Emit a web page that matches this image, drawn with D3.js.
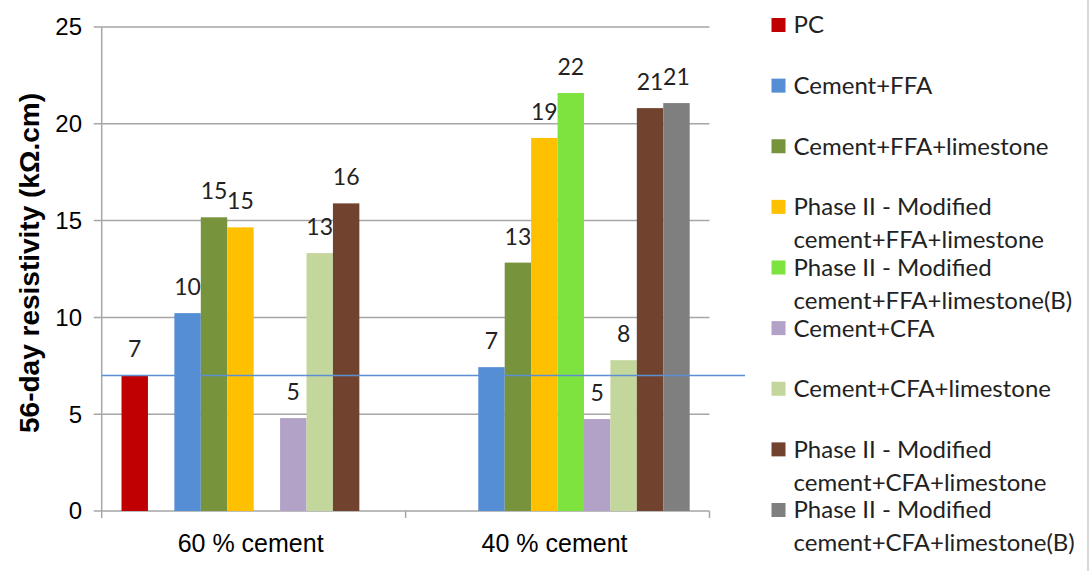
<!DOCTYPE html>
<html><head><meta charset="utf-8">
<script src="https://cdn.jsdelivr.net/npm/d3@7"></script>
<style>body{margin:0;background:#fff} svg{display:block}</style>
</head><body><svg id="c" width="1091" height="571"></svg>
<script>
// ---- data ----
const categories = ["60 % cement", "40 % cement"];
const seriesNames = [
  "PC",
  "",
  "Cement+FFA",
  "Cement+FFA+limestone",
  "Phase II - Modified\ncement+FFA+limestone",
  "Phase II - Modified\ncement+FFA+limestone(B)",
  "Cement+CFA",
  "Cement+CFA+limestone",
  "Phase II - Modified\ncement+CFA+limestone",
  "Phase II - Modified\ncement+CFA+limestone(B)"
];
const seriesColors = ["#C00000", "#FFFFFF", "#558ED5", "#77933C", "#FFC000", "#7FE33F", "#B3A2C7", "#C3D69B", "#71432F", "#7F7F7F"];
const valPC         = [7.0, null];
const valBlank      = [null, null];
const valFFA        = [10.22, 7.43];
const valFFALs      = [15.17, 12.83];
const valP2FFA      = [14.65, 19.27];
const valP2FFAB     = [null, 21.59];
const valCFA        = [4.80, 4.75];
const valCFALs      = [13.32, 7.79];
const valP2CFA      = [15.89, 20.81];
const valP2CFAB     = [null, 21.07];
const seriesValues = [valPC, valBlank, valFFA, valFFALs, valP2FFA, valP2FFAB, valCFA, valCFALs, valP2CFA, valP2CFAB];
const yTicks = [0, 5, 10, 15, 20, 25];
const referenceValue = 7;
const yTitle = "56-day resistivity (kΩ.cm)";

// ---- layout ----
const svg = d3.select("#c");
const plotL = 101.7, plotR = 709.5, plotT = 27, plotB = 511;

const x0 = d3.scaleBand().domain(categories).range([plotL, plotR]).padding(0);
const x1 = d3.scaleBand().domain(d3.range(seriesNames.length)).range([0, x0.bandwidth()])
  .paddingInner(0).paddingOuter(0.75);
const y = d3.scaleLinear().domain([0, 25]).range([plotB, plotT]);

// gridlines
svg.append("g").selectAll("line").data(yTicks).join("line")
  .attr("x1", plotL - 8).attr("x2", plotR)
  .attr("y1", d => y(d)).attr("y2", d => y(d))
  .attr("stroke", "#a6a6a6").attr("stroke-width", 1.5);

// y axis line
svg.append("line").attr("x1", plotL).attr("x2", plotL).attr("y1", plotT).attr("y2", plotB + 7)
  .attr("stroke", "#a6a6a6").attr("stroke-width", 1.5);

// category ticks
const bounds = categories.map(c => x0(c)).concat([plotR]);
svg.append("g").selectAll("line").data(bounds.slice(1)).join("line")
  .attr("x1", d => d).attr("x2", d => d).attr("y1", plotB).attr("y2", plotB + 7)
  .attr("stroke", "#a6a6a6").attr("stroke-width", 1.5);

// y tick labels
svg.append("g").selectAll("text").data(yTicks).join("text")
  .attr("x", 82).attr("y", d => y(d)).attr("dy", "0.35em")
  .attr("text-anchor", "end")
  .attr("font-family", "Liberation Sans, Arial, sans-serif").attr("font-size", 24)
  .attr("fill", "#000").text(d => d);

// y title
svg.append("text")
  .attr("transform", `translate(39,263) rotate(-90)`)
  .attr("text-anchor", "middle")
  .attr("font-family", "Liberation Sans, Arial, sans-serif").attr("font-size", 28)
  .attr("font-weight", "bold").attr("fill", "#000").text(yTitle);

// x labels
svg.append("g").selectAll("text").data(categories).join("text")
  .attr("x", d => x0(d) + x0.bandwidth() / 2 - 3).attr("y", 552)
  .attr("text-anchor", "middle")
  .attr("font-family", "Liberation Sans, Arial, sans-serif").attr("font-size", 25)
  .attr("fill", "#000").text(d => d);

// bars
const barData = [];
seriesNames.forEach((s, si) => {
  categories.forEach((c, ci) => {
    const v = seriesValues[si][ci];
    if (v !== null && v !== undefined) barData.push({ si, c, v });
  });
});
svg.append("g").selectAll("rect").data(barData).join("rect")
  .attr("x", d => x0(d.c) + x1(d.si))
  .attr("width", x1.bandwidth())
  .attr("y", d => y(d.v))
  .attr("height", d => y(0) - y(d.v))
  .attr("fill", d => seriesColors[d.si]);

// reference line
svg.append("line").attr("x1", plotL).attr("x2", 745)
  .attr("y1", y(referenceValue)).attr("y2", y(referenceValue))
  .attr("stroke", "#5B8FD4").attr("stroke-width", 1.5);

// data labels
svg.append("g").selectAll("text").data(barData).join("text")
  .attr("x", d => x0(d.c) + x1(d.si) + x1.bandwidth() / 2)
  .attr("y", d => y(d.v) - 18)
  .attr("text-anchor", "middle")
  .attr("font-family", "Lato, Open Sans, sans-serif").attr("font-size", 23)
  .attr("fill", "#222").text(d => Math.round(d.v));

// legend
const legendItems = seriesNames.map((s, i) => ({ s, i })).filter(d => d.s !== "");
const ly = d3.scalePoint().domain(legendItems.map(d => d.i)).range([25, 510]);
const lg = svg.append("g").selectAll("g").data(legendItems).join("g")
  .attr("transform", d => `translate(771.5,${ly(d.i)})`);
lg.append("rect").attr("x", 0).attr("y", -7).attr("width", 14).attr("height", 14)
  .attr("fill", d => seriesColors[d.i]);
lg.append("text").attr("x", 22)
  .attr("font-family", "Lato, Open Sans, sans-serif").attr("font-size", 24)
  .attr("fill", "#222")
  .selectAll("tspan").data(d => d.s.split("\n")).join("tspan")
  .attr("x", 22).attr("y", (d, i) => i * 33).attr("dy", "0.35em").text(d => d);

// right border
svg.append("line").attr("x1", 1088).attr("x2", 1088).attr("y1", 0).attr("y2", 571)
  .attr("stroke", "#d9d9d9").attr("stroke-width", 2);
</script>
</body></html>
